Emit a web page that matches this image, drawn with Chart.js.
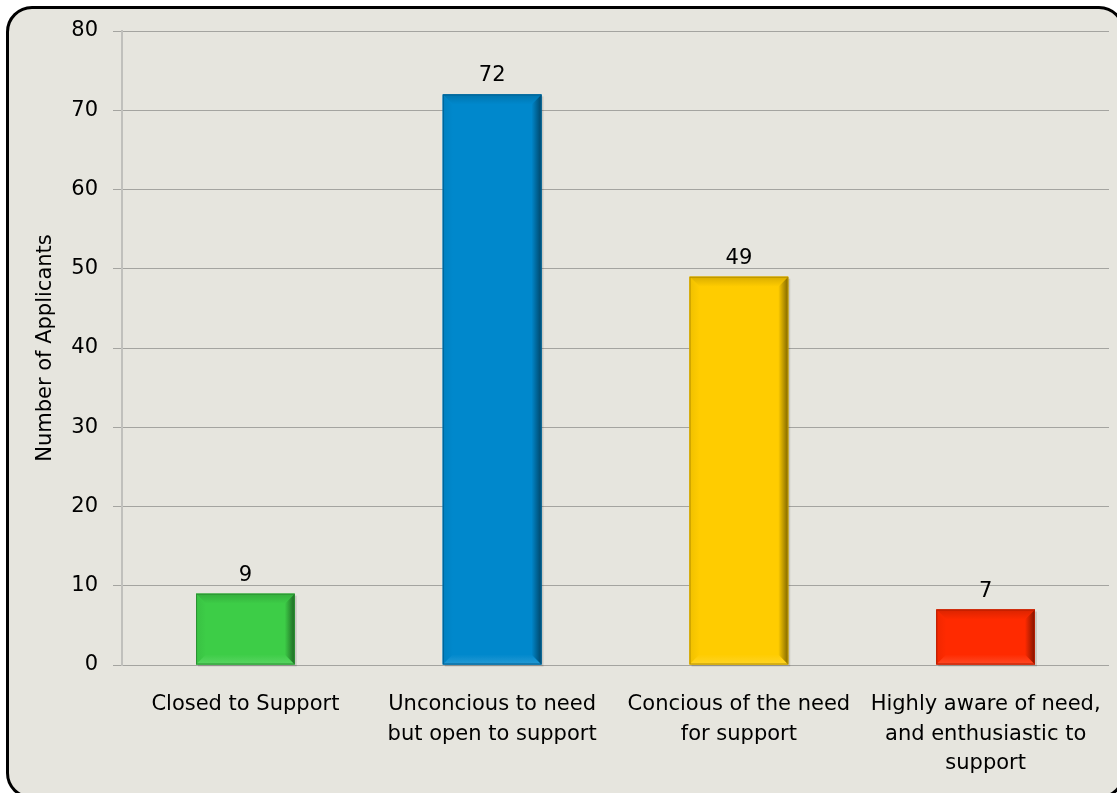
<!DOCTYPE html>
<html>
<head>
<meta charset="utf-8">
<script src="https://cdn.jsdelivr.net/npm/chart.js@4"></script>
<style>
    html, body { margin: 0; padding: 0; width: 1117px; height: 793px; overflow: hidden; background: #ffffff; }
    #frame {
        position: absolute; left: 6px; top: 6px; width: 1119px; height: 793px;
        background: #e6e5de; border: 3px solid #000; border-radius: 26px; box-sizing: border-box;
    }
    #wrap { position: absolute; left: 0; top: 0; width: 1117px; height: 793px; }
</style>
</head>
<body>
<div id="frame"></div>
<div id="wrap"><canvas id="awarenessChart" width="1117" height="793"></canvas></div>
<script>
// Applicants by attitude toward support
const categories = [
    ['Closed to Support'],
    ['Unconcious to need', 'but open to support'],
    ['Concious of the need', 'for support'],
    ['Highly aware of need,', 'and enthusiastic to', 'support']
];
const applicants = [9, 72, 49, 7];
const barColors = ['#3dcd47', '#0088cc', '#ffcc00', '#ff2a00'];
const yTicks = [0, 10, 20, 30, 40, 50, 60, 70, 80];

const FONT = '"DejaVu Sans", Verdana, sans-serif';
const FONT_SIZE = 21;

// Lighten (amt > 0) or darken (amt < 0) a hex colour
function shade(hex, amt) {
    const n = parseInt(hex.slice(1), 16);
    let r = (n >> 16) & 255, g = (n >> 8) & 255, b = n & 255;
    const f = c => amt >= 0 ? Math.round(c + (255 - c) * amt) : Math.round(c * (1 + amt));
    return `rgb(${f(r)},${f(g)},${f(b)})`;
}

// Bevelled edges and value labels on top of each bar
const bevelPlugin = {
    id: 'bevel',
    afterDatasetsDraw(chart) {
        const ctx = chart.ctx;
        const meta = chart.getDatasetMeta(0);
        meta.data.forEach((bar, i) => {
            const { x, y, base, width } = bar.getProps(['x', 'y', 'base', 'width'], true);
            const l = x - width / 2, r = x + width / 2, t = y, b = base;
            const d = 10;
            const col = barColors[i];
            const poly = (pts, fill) => {
                ctx.beginPath();
                ctx.moveTo(pts[0][0], pts[0][1]);
                pts.slice(1).forEach(p => ctx.lineTo(p[0], p[1]));
                ctx.closePath();
                ctx.fillStyle = fill;
                ctx.fill();
            };
            ctx.save();
            // soft shadow
            ctx.fillStyle = 'rgba(0,0,0,0.12)';
            ctx.fillRect(l + 2, t + 2, width, b - t);
            ctx.fillStyle = col;
            ctx.fillRect(l, t, width, b - t);

            const edge = (pts, c0, c1, x0, y0, x1, y1) => {
                const g = ctx.createLinearGradient(x0, y0, x1, y1);
                g.addColorStop(0, c0);
                g.addColorStop(1, c1);
                poly(pts, g);
            };
            edge([[l, t], [r, t], [r - d, t + d], [l + d, t + d]], shade(col, -0.15), col, 0, t, 0, t + d);
            edge([[l, t], [l + d, t + d], [l + d, b - d], [l, b]], shade(col, -0.06), col, l, 0, l + d, 0);
            edge([[l, b], [l + d, b - d], [r - d, b - d], [r, b]], shade(col, 0.15), col, 0, b, 0, b - d);
            edge([[r, t], [r, b], [r - d, b - d], [r - d, t + d]], shade(col, -0.5), col, r, 0, r - d, 0);
            ctx.strokeStyle = shade(col, -0.3);
            ctx.lineWidth = 1;
            ctx.strokeRect(l + 0.5, t + 0.5, width - 1, b - t - 1);

            ctx.fillStyle = '#000';
            ctx.font = FONT_SIZE + 'px ' + FONT;
            ctx.textAlign = 'center';
            ctx.textBaseline = 'alphabetic';
            ctx.fillText(String(applicants[i]), x, t - 13);
            ctx.restore();
        });
    }
};

new Chart(document.getElementById('awarenessChart').getContext('2d'), {
    type: 'bar',
    data: {
        labels: categories,
        datasets: [{
            data: applicants,
            backgroundColor: barColors,
            borderWidth: 0,
            categoryPercentage: 1,
            barPercentage: 0.4
        }]
    },
    options: {
        responsive: false,
        animation: false,
        devicePixelRatio: 1,
        layout: { padding: { left: 0, right: 8, top: 31, bottom: 0 } },
        plugins: {
            legend: { display: false },
            tooltip: { enabled: false }
        },
        scales: {
            x: {
                grid: { display: false, drawTicks: false },
                border: { display: false },
                ticks: {
                    color: '#000',
                    font: { family: FONT, size: FONT_SIZE, lineHeight: 1.4 },
                    padding: 25,
                    maxRotation: 0,
                    autoSkip: false
                },
                afterFit(scale) {
                    scale.height = 128;
                    scale.paddingLeft = 0;
                    scale.paddingRight = 0;
                }
            },
            y: {
                min: 0,
                max: 80,
                afterBuildTicks(scale) { scale.ticks = yTicks.map(v => ({ value: v })); },
                grid: {
                    color: '#a4a4a0',
                    lineWidth: 1,
                    tickLength: 9
                },
                border: { display: true, color: '#c0c0bc', width: 2 },
                ticks: {
                    color: '#000',
                    font: { family: FONT, size: FONT_SIZE },
                    padding: 15
                },
                title: {
                    display: true,
                    text: 'Number of Applicants',
                    color: '#000',
                    font: { family: FONT, size: FONT_SIZE },
                    padding: { top: 33, bottom: 0 }
                },
                afterFit(scale) { scale.width = 122; }
            }
        }
    },
    plugins: [bevelPlugin]
});
</script>
</body>
</html>
